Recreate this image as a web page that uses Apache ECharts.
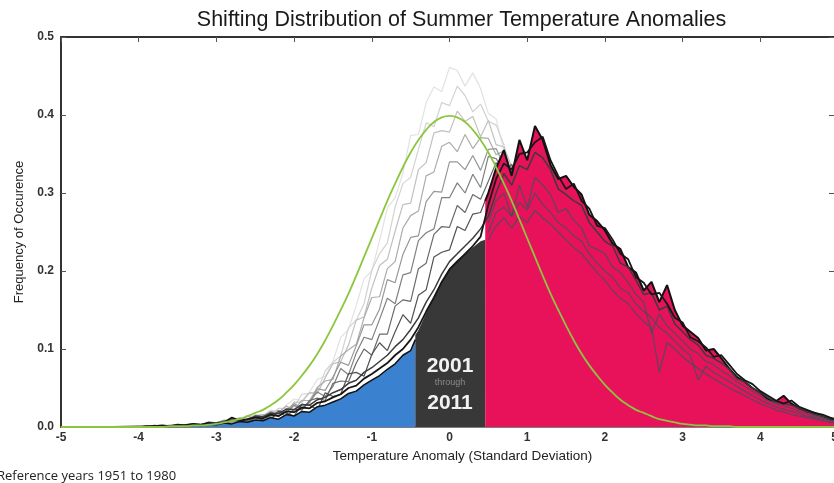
<!DOCTYPE html>
<html>
<head>
<meta charset="utf-8">
<script src="https://cdn.jsdelivr.net/npm/echarts@6/dist/echarts.min.js"></script>
<style>html,body{margin:0;padding:0;background:#fff;}#c{width:834px;height:483px;}</style>
</head>
<body>
<div id="c"></div>
<script>
// x positions (standard deviations)
const xAll = [-5.0,-4.5,-4.0,-3.9,-3.8,-3.7,-3.6,-3.5,-3.4,-3.3,-3.2,-3.1,-3.0,-2.9,-2.8,-2.7,-2.6,-2.5,-2.4,-2.3,-2.2,-2.1,-2.0,-1.9,-1.8,-1.7,-1.6,-1.5,-1.4,-1.3,-1.2,-1.1,-1.0,-0.9,-0.8,-0.7,-0.6,-0.5,-0.4,-0.3,-0.2,-0.1,0.0,0.1,0.2,0.3,0.4,0.5,0.6,0.7,0.8,0.9,1.0,1.1,1.2,1.3,1.4,1.5,1.6,1.7,1.8,1.9,2.0,2.1,2.2,2.3,2.4,2.5,2.6,2.7,2.8,2.9,3.0,3.1,3.2,3.3,3.4,3.5,3.6,3.7,3.8,3.9,4.0,4.1,4.2,4.3,4.4,4.5,4.6,4.7,4.8,4.9,5.0];
const xOld = [-3.0,-2.9,-2.8,-2.7,-2.6,-2.5,-2.4,-2.3,-2.2,-2.1,-2.0,-1.9,-1.8,-1.7,-1.6,-1.5,-1.4,-1.3,-1.2,-1.1,-1.0,-0.9,-0.8,-0.7,-0.6,-0.5,-0.4,-0.3,-0.2,-0.1,0.0,0.1,0.2,0.3,0.4,0.5,0.6,0.7,0.8,0.9,1.0];
const xRight = [0.5,0.6,0.7,0.8,0.9,1.0,1.1,1.2,1.3,1.4,1.5,1.6,1.7,1.8,1.9,2.0,2.1,2.2,2.3,2.4,2.5,2.6,2.7,2.8,2.9,3.0,3.1,3.2,3.3,3.4,3.5,3.6,3.7,3.8,3.9,4.0,4.1,4.2,4.3,4.4,4.5,4.6,4.7,4.8,4.9,5.0];

// 2001-2011 filled distribution, split into cold / neutral / hot
const coldX = [-4.0,-3.9,-3.8,-3.7,-3.6,-3.5,-3.4,-3.3,-3.2,-3.1,-3.0,-2.9,-2.8,-2.7,-2.6,-2.5,-2.4,-2.3,-2.2,-2.1,-2.0,-1.9,-1.8,-1.7,-1.6,-1.5,-1.4,-1.3,-1.2,-1.1,-1.0,-0.9,-0.8,-0.7,-0.6,-0.5,-0.44];
const coldY = [0.000,0.001,0.000,0.001,0.001,0.002,0.001,0.003,0.002,0.004,0.003,0.005,0.004,0.007,0.006,0.009,0.008,0.012,0.010,0.016,0.014,0.020,0.019,0.026,0.028,0.032,0.036,0.043,0.046,0.054,0.060,0.066,0.074,0.081,0.092,0.098,0.112];
const neutralX = [-0.44,-0.4,-0.3,-0.2,-0.1,0.0,0.1,0.2,0.3,0.4,0.46];
const neutralY = [0.118,0.124,0.146,0.166,0.186,0.204,0.214,0.222,0.230,0.238,0.240];
const hotX = [0.46].concat(xRight);
const hotY = [0.290,0.300,0.332,0.355,0.322,0.368,0.342,0.386,0.368,0.336,0.318,0.322,0.308,0.298,0.272,0.264,0.252,0.235,0.228,0.205,0.198,0.175,0.186,0.160,0.182,0.150,0.130,0.122,0.114,0.098,0.100,0.088,0.075,0.064,0.058,0.050,0.044,0.036,0.033,0.040,0.030,0.024,0.020,0.018,0.014,0.010,0.008];

// earlier years (1951-2000), light to dark
const old1 = [.005,.009,.008,.011,.015,.012,.015,.022,.018,.028,.036,.034,.045,.061,.065,.084,.115,.125,.156,.190,.200,.239,.281,.294,.325,.374,.375,.416,.436,.430,.461,.457,.437,.454,.434,.402,.395,.354,.334,.308,.264];
const old2 = [.006,.006,.011,.011,.009,.016,.015,.014,.024,.024,.026,.042,.043,.046,.072,.083,.091,.127,.137,.158,.201,.222,.236,.282,.312,.320,.356,.390,.385,.416,.412,.437,.425,.404,.414,.392,.387,.362,.321,.309,.280];
const old3 = [.004,.008,.008,.007,.014,.014,.012,.020,.021,.019,.032,.032,.044,.043,.063,.081,.084,.105,.137,.141,.178,.207,.215,.251,.285,.287,.330,.339,.377,.380,.378,.405,.392,.398,.372,.393,.362,.359,.334,.299,.290];
const old4 = [.006,.006,.006,.012,.009,.014,.016,.012,.019,.027,.022,.034,.034,.051,.059,.061,.091,.099,.106,.140,.166,.167,.203,.212,.255,.271,.277,.322,.327,.360,.365,.353,.375,.357,.371,.370,.349,.354,.325,.318,.286];
const old5 = [.005,.009,.005,.008,.014,.008,.014,.020,.013,.021,.030,.024,.031,.049,.047,.064,.083,.079,.104,.131,.131,.151,.189,.185,.221,.243,.245,.289,.302,.301,.340,.340,.330,.348,.329,.356,.357,.335,.333,.309,.306];
const old6 = [.004,.003,.010,.009,.007,.014,.013,.010,.021,.018,.028,.022,.033,.045,.039,.052,.075,.067,.095,.115,.112,.138,.165,.158,.195,.198,.239,.249,.254,.294,.294,.313,.300,.324,.307,.347,.344,.328,.336,.315,.311];
const old7 = [.004,.003,.009,.006,.010,.013,.008,.014,.020,.013,.023,.022,.034,.037,.034,.056,.059,.058,.082,.100,.092,.119,.119,.155,.163,.161,.203,.210,.247,.257,.256,.284,.275,.298,.292,.315,.339,.326,.337,.316,.317];
const old8 = [.004,.003,.009,.008,.005,.013,.009,.009,.020,.018,.014,.029,.028,.022,.044,.039,.042,.068,.070,.065,.093,.108,.098,.122,.144,.133,.169,.176,.218,.224,.227,.257,.252,.273,.275,.301,.328,.330,.328,.329,.317];
const oldColors = ['#e2e2e2','#d2d2d2','#c0c0c0','#acacac','#979797','#808080','#6a6a6a','#525252'];

// recent years (2001-2011) lines
const recentA = [0,0,.000,.001,.001,.002,.001,.003,.002,.004,.003,.005,.004,.006,.012,.008,.010,.012,.011,.016,.014,.020,.019,.025,.024,.031,.033,.038,.042,.050,.053,.062,.068,.075,.082,.092,.100,.112,.128,.148,.166,.186,.202,.212,.222,.232,.244,
  .285,.318,.338,.330,.350,.352,.365,.372,.342,.322,.305,.312,.290,.280,.258,.255,.240,.222,.215,.192,.185,.170,.172,.158,.140,.134,.115,.110,.102,.090,.092,.080,.068,.060,.055,.046,.040,.034,.030,.034,.026,.022,.018,.016,.012,.009];
const recentB = [0,0,.001,.000,.002,.001,.002,.002,.003,.004,.003,.006,.005,.007,.008,.010,.009,.014,.013,.018,.017,.023,.022,.029,.028,.035,.038,.044,.048,.056,.060,.070,.076,.084,.092,.103,.112,.125,.140,.160,.176,.196,.212,.222,.232,.242,.254,
  .270,.300,.325,.310,.335,.330,.352,.345,.330,.305,.298,.290,.284,.262,.250,.238,.232,.210,.205,.188,.170,.172,.150,.155,.132,.122,.112,.105,.092,.088,.082,.074,.062,.058,.050,.044,.038,.032,.030,.028,.024,.020,.016,.014,.011,.008];
const recentC = [.262,.290,.300,.270,.310,.282,.320,.310,.298,.275,.280,.265,.255,.232,.228,.222,.205,.198,.185,.170,.160,.120,.145,.130,.120,.110,.100,.094,.084,.080,.072,.066,.058,.052,.046,.040,.034,.030,.027,.024,.020,.017,.014,.012,.009,.007];
const recentD = [.250,.275,.282,.270,.288,.278,.300,.285,.275,.262,.255,.245,.238,.222,.210,.200,.192,.178,.172,.158,.148,.140,.128,.120,.110,.100,.092,.060,.078,.070,.064,.058,.052,.046,.040,.035,.030,.026,.023,.020,.017,.014,.012,.010,.008,.006];
const recentE = [.240,.258,.268,.255,.270,.262,.278,.268,.260,.250,.240,.230,.222,.210,.198,.188,.175,.165,.158,.145,.135,.128,.070,.108,.100,.090,.082,.075,.068,.062,.056,.050,.045,.040,.035,.030,.026,.022,.019,.016,.014,.012,.010,.008,.006,.005];

// reference normal curve (1951-1980)
const normalY = [0,0,.000,.000,.000,.000,.001,.001,.001,.002,.002,.003,.004,.006,.008,.010,.014,.018,.022,.028,.035,.044,.054,.066,.079,.094,.111,.130,.150,.171,.194,.218,.242,.266,.290,.312,.333,.352,.368,.381,.391,.397,.399,
  .397,.391,.381,.368,.352,.333,.312,.290,.266,.242,.218,.194,.171,.150,.130,.111,.094,.079,.066,.054,.044,.035,.028,.022,.018,.014,.010,.008,.006,.004,.003,.002,.002,.001,.001,.001,0,0,0,0,0,0,0,0,0,0,0,0,0,0];

const xTicks = [-5,-4,-3,-2,-1,0,1,2,3,4,5];
const yTicks = [0.0,0.1,0.2,0.3,0.4,0.5];

const pairs = (xs, ys) => xs.map((x, i) => [x, ys[i]]);
const FONT = '"Liberation Sans", Arial, sans-serif';

const series = [];
[old1,old2,old3,old4,old5,old6,old7,old8].forEach((ys, k) => {
  series.push({type:'line', data: pairs(xOld, ys), symbol:'none', z:1, silent:true,
    lineStyle:{color: oldColors[k], width:1.2}});
});
series.push({type:'line', data: pairs(coldX, coldY), symbol:'none', z:2, silent:true,
  lineStyle:{color:'#111', width:1.5}, areaStyle:{color:'#3a82cf', opacity:1}});
series.push({type:'line', data: pairs(neutralX, neutralY), symbol:'none', z:2, silent:true,
  lineStyle:{width:0, color:'#383838'}, areaStyle:{color:'#383838', opacity:1}});
series.push({type:'line', data: pairs(hotX, hotY), symbol:'none', z:2, silent:true,
  lineStyle:{color:'#111', width:2}, areaStyle:{color:'#e8125a', opacity:1}});
[recentC, recentD, recentE].forEach(ys => {
  series.push({type:'line', data: pairs(xRight, ys), symbol:'none', z:3, silent:true,
    lineStyle:{color:'rgba(70,78,92,0.85)', width:1.2}});
});
series.push({type:'line', data: pairs(xAll, recentB), symbol:'none', z:3, silent:true,
  lineStyle:{color:'#3c3c3c', width:1.5}});
series.push({type:'line', data: pairs(xAll, recentA), symbol:'none', z:3, silent:true,
  lineStyle:{color:'#161616', width:1.8}});
series.push({type:'line', data: pairs(xAll, normalY), symbol:'none', z:4, silent:true, smooth:true,
  lineStyle:{color:'#8cc63f', width:1.8}});

const chart = echarts.init(document.getElementById('c'), null, {renderer:'canvas'});
chart.setOption({
  animation:false,
  backgroundColor:'#fff',
  grid:{left:61, width:777, top:37, bottom:56, outerBoundsMode:'none', containLabel:false},
  xAxis:[{
    type:'value', min:-5, max:5, interval:1, position:'bottom',
    name:'Temperature Anomaly (Standard Deviation)', nameLocation:'middle', nameGap:22,
    nameTextStyle:{fontFamily:FONT, fontSize:13.5, color:'#222', padding:[0,0,0,26]},
    axisLine:{show:true, onZero:false, lineStyle:{color:'#555', width:1.5}},
    axisTick:{show:false},
    axisLabel:{fontFamily:FONT, fontSize:12, fontWeight:'bold', color:'#333', margin:5,
      showMaxLabel:true, alignMaxLabel:'right',
      formatter: v => xTicks.indexOf(v) >= 0 ? String(v) : ''},
    splitLine:{show:false}
  },{
    type:'value', min:-5, max:5, interval:1, position:'top',
    axisLine:{show:true, onZero:false, lineStyle:{color:'#333', width:2}},
    axisTick:{show:true, inside:true, length:5, lineStyle:{color:'#555'}},
    axisLabel:{show:false}, splitLine:{show:false}
  }],
  yAxis:[{
    type:'value', min:0, max:0.5, interval:0.1, position:'left',
    name:'Frequency of Occurence', nameLocation:'middle', nameGap:33,
    nameTextStyle:{fontFamily:FONT, fontSize:13, color:'#222'},
    axisLine:{show:true, onZero:false, lineStyle:{color:'#333', width:2}},
    axisTick:{show:true, inside:true, length:5, lineStyle:{color:'#555'}},
    axisLabel:{fontFamily:FONT, fontSize:12, fontWeight:'bold', color:'#333', margin:7,
      formatter: v => v.toFixed(1)},
    splitLine:{show:false}
  },{
    type:'value', min:0, max:0.5, interval:0.1, position:'right',
    axisLine:{show:true, onZero:false, lineStyle:{color:'#333', width:2}},
    axisTick:{show:true, inside:true, length:9, lineStyle:{color:'#555'}},
    axisLabel:{show:false}, splitLine:{show:false}
  }],
  series: series,
  graphic:[
    {type:'text', x:461.5, y:9, style:{text:'Shifting Distribution of Summer Temperature Anomalies',
      font:'21.5px ' + FONT, fill:'#1a1a1a', textAlign:'center'}},
    {type:'text', x:450, y:366, style:{text:'2001', font:'bold 21px ' + FONT, fill:'#f2f2f2', textAlign:'center', textVerticalAlign:'middle'}, z:10},
    {type:'text', x:450, y:383, style:{text:'through', font:'9px ' + FONT, fill:'#8a8a8a', textAlign:'center', textVerticalAlign:'middle'}, z:10},
    {type:'text', x:450, y:403, style:{text:'2011', font:'bold 21px ' + FONT, fill:'#f2f2f2', textAlign:'center', textVerticalAlign:'middle'}, z:10},
    {type:'text', x:-3, y:470, style:{text:'Reference years 1951 to 1980', font:'13px "Open Sans", "Noto Sans", sans-serif', fill:'#222'}, z:10}
  ]
});
</script>
</body>
</html>
